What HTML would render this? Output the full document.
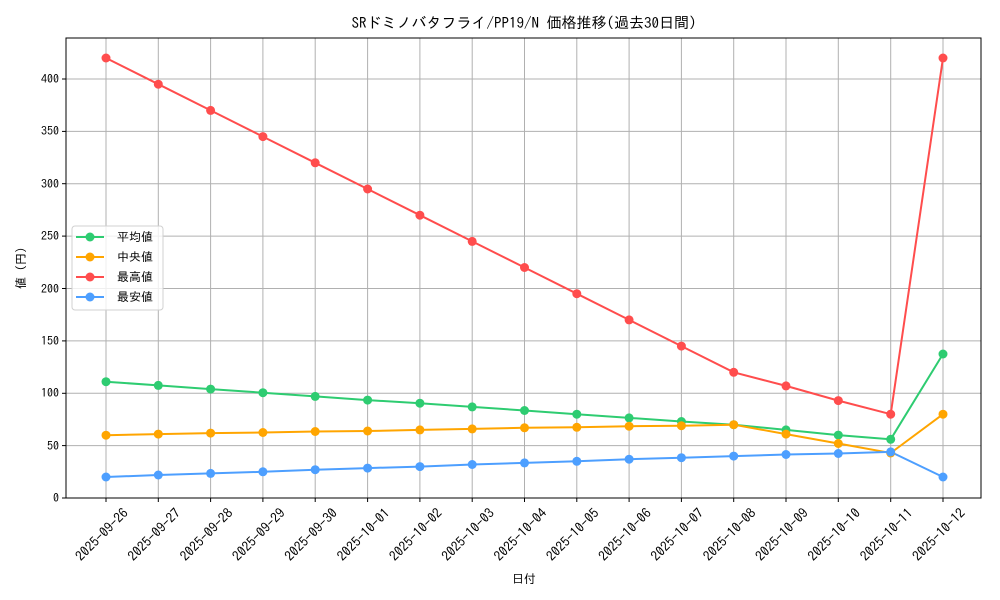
<!DOCTYPE html>
<html><head><meta charset="utf-8"><style>
html,body{margin:0;padding:0;background:#fff;}
svg{display:block;font-family:"IPAGothic","Liberation Sans","Noto Sans CJK JP",sans-serif;}
</style></head><body>
<svg width="1000" height="600" viewBox="0 0 1000 600" xmlns="http://www.w3.org/2000/svg">
<rect width="1000" height="600" fill="#fff"/>
<text x="524" y="28" font-size="15" text-anchor="middle" fill="#000">SRドミノバタフライ/PP19/N 価格推移(過去30日間)</text>
<g stroke="#b0b0b0" stroke-width="1">
<line x1="106" y1="38" x2="106" y2="498"/><line x1="158.3" y1="38" x2="158.3" y2="498"/><line x1="210.6" y1="38" x2="210.6" y2="498"/><line x1="262.9" y1="38" x2="262.9" y2="498"/><line x1="315.2" y1="38" x2="315.2" y2="498"/><line x1="367.6" y1="38" x2="367.6" y2="498"/><line x1="419.9" y1="38" x2="419.9" y2="498"/><line x1="472.2" y1="38" x2="472.2" y2="498"/><line x1="524.5" y1="38" x2="524.5" y2="498"/><line x1="576.8" y1="38" x2="576.8" y2="498"/><line x1="629.1" y1="38" x2="629.1" y2="498"/><line x1="681.4" y1="38" x2="681.4" y2="498"/><line x1="733.7" y1="38" x2="733.7" y2="498"/><line x1="786" y1="38" x2="786" y2="498"/><line x1="838.3" y1="38" x2="838.3" y2="498"/><line x1="890.7" y1="38" x2="890.7" y2="498"/><line x1="943" y1="38" x2="943" y2="498"/>
<line x1="66" y1="445.6" x2="981" y2="445.6"/><line x1="66" y1="393.3" x2="981" y2="393.3"/><line x1="66" y1="340.9" x2="981" y2="340.9"/><line x1="66" y1="288.5" x2="981" y2="288.5"/><line x1="66" y1="236.1" x2="981" y2="236.1"/><line x1="66" y1="183.7" x2="981" y2="183.7"/><line x1="66" y1="131.4" x2="981" y2="131.4"/><line x1="66" y1="79" x2="981" y2="79"/>
</g>
<rect x="66" y="38" width="915" height="460" fill="none" stroke="#000" stroke-width="1"/>
<g stroke="#000"><line x1="62" y1="498" x2="66" y2="498"/><line x1="62" y1="445.6" x2="66" y2="445.6"/><line x1="62" y1="393.3" x2="66" y2="393.3"/><line x1="62" y1="340.9" x2="66" y2="340.9"/><line x1="62" y1="288.5" x2="66" y2="288.5"/><line x1="62" y1="236.1" x2="66" y2="236.1"/><line x1="62" y1="183.7" x2="66" y2="183.7"/><line x1="62" y1="131.4" x2="66" y2="131.4"/><line x1="62" y1="79" x2="66" y2="79"/>
<line x1="106" y1="498" x2="106" y2="502"/><line x1="158.3" y1="498" x2="158.3" y2="502"/><line x1="210.6" y1="498" x2="210.6" y2="502"/><line x1="262.9" y1="498" x2="262.9" y2="502"/><line x1="315.2" y1="498" x2="315.2" y2="502"/><line x1="367.6" y1="498" x2="367.6" y2="502"/><line x1="419.9" y1="498" x2="419.9" y2="502"/><line x1="472.2" y1="498" x2="472.2" y2="502"/><line x1="524.5" y1="498" x2="524.5" y2="502"/><line x1="576.8" y1="498" x2="576.8" y2="502"/><line x1="629.1" y1="498" x2="629.1" y2="502"/><line x1="681.4" y1="498" x2="681.4" y2="502"/><line x1="733.7" y1="498" x2="733.7" y2="502"/><line x1="786" y1="498" x2="786" y2="502"/><line x1="838.3" y1="498" x2="838.3" y2="502"/><line x1="890.7" y1="498" x2="890.7" y2="502"/><line x1="943" y1="498" x2="943" y2="502"/></g>
<g font-size="12" text-anchor="end" fill="#000">
<text x="59" y="502">0</text><text x="59" y="450">50</text><text x="59" y="397">100</text><text x="59" y="345">150</text><text x="59" y="293">200</text><text x="59" y="240">250</text><text x="59" y="188">300</text><text x="59" y="135">350</text><text x="59" y="83">400</text>
</g>
<g font-size="13.5" text-anchor="end" fill="#000">
<text transform="translate(129,514) rotate(-45)">2025-09-26</text>
<text transform="translate(181.3,514) rotate(-45)">2025-09-27</text>
<text transform="translate(233.6,514) rotate(-45)">2025-09-28</text>
<text transform="translate(285.9,514) rotate(-45)">2025-09-29</text>
<text transform="translate(338.2,514) rotate(-45)">2025-09-30</text>
<text transform="translate(390.6,514) rotate(-45)">2025-10-01</text>
<text transform="translate(442.9,514) rotate(-45)">2025-10-02</text>
<text transform="translate(495.2,514) rotate(-45)">2025-10-03</text>
<text transform="translate(547.5,514) rotate(-45)">2025-10-04</text>
<text transform="translate(599.8,514) rotate(-45)">2025-10-05</text>
<text transform="translate(652.1,514) rotate(-45)">2025-10-06</text>
<text transform="translate(704.4,514) rotate(-45)">2025-10-07</text>
<text transform="translate(756.7,514) rotate(-45)">2025-10-08</text>
<text transform="translate(809,514) rotate(-45)">2025-10-09</text>
<text transform="translate(861.3,514) rotate(-45)">2025-10-10</text>
<text transform="translate(913.7,514) rotate(-45)">2025-10-11</text>
<text transform="translate(966,514) rotate(-45)">2025-10-12</text>
</g>
<text x="524" y="583" font-size="12" text-anchor="middle">日付</text>
<text transform="translate(25,268) rotate(-90)" font-size="12" text-anchor="middle">値 (円)</text>
<g fill="none" stroke-width="2">
<polyline stroke="#ff4d4d" points="106,58 158.3,84.2 210.6,110.4 262.9,136.6 315.2,162.8 367.6,189 419.9,215.2 472.2,241.4 524.5,267.5 576.8,293.7 629.1,319.9 681.4,346.1 733.7,372.3 786,385.9 838.3,400.6 890.7,414.2 943,58"/>
<polyline stroke="#2ecc71" points="106,381.7 158.3,385.4 210.6,389.1 262.9,392.7 315.2,396.4 367.6,400.1 419.9,403.2 472.2,406.9 524.5,410.5 576.8,414.2 629.1,417.9 681.4,421.5 733.7,424.7 786,429.9 838.3,435.1 890.7,439.3 943,354"/>
<polyline stroke="#ffa500" points="106,435.2 158.3,434.1 210.6,433.1 262.9,432.5 315.2,431.5 367.6,431 419.9,429.9 472.2,428.9 524.5,427.8 576.8,427.3 629.1,426.2 681.4,425.7 733.7,424.7 786,434.1 838.3,443.5 890.7,453 943,414.2"/>
<polyline stroke="#4d9fff" points="106,477 158.3,475 210.6,473.4 262.9,471.8 315.2,469.7 367.6,468.1 419.9,466.6 472.2,464.5 524.5,462.9 576.8,461.3 629.1,459.2 681.4,457.7 733.7,456.1 786,454.5 838.3,453.5 890.7,451.9 943,477"/>
</g>
<g fill="#ff4d4d"><circle cx="106" cy="58" r="4.5"/><circle cx="158.3" cy="84.2" r="4.5"/><circle cx="210.6" cy="110.4" r="4.5"/><circle cx="262.9" cy="136.6" r="4.5"/><circle cx="315.2" cy="162.8" r="4.5"/><circle cx="367.6" cy="189" r="4.5"/><circle cx="419.9" cy="215.2" r="4.5"/><circle cx="472.2" cy="241.4" r="4.5"/><circle cx="524.5" cy="267.5" r="4.5"/><circle cx="576.8" cy="293.7" r="4.5"/><circle cx="629.1" cy="319.9" r="4.5"/><circle cx="681.4" cy="346.1" r="4.5"/><circle cx="733.7" cy="372.3" r="4.5"/><circle cx="786" cy="385.9" r="4.5"/><circle cx="838.3" cy="400.6" r="4.5"/><circle cx="890.7" cy="414.2" r="4.5"/><circle cx="943" cy="58" r="4.5"/></g>
<g fill="#2ecc71"><circle cx="106" cy="381.7" r="4.5"/><circle cx="158.3" cy="385.4" r="4.5"/><circle cx="210.6" cy="389.1" r="4.5"/><circle cx="262.9" cy="392.7" r="4.5"/><circle cx="315.2" cy="396.4" r="4.5"/><circle cx="367.6" cy="400.1" r="4.5"/><circle cx="419.9" cy="403.2" r="4.5"/><circle cx="472.2" cy="406.9" r="4.5"/><circle cx="524.5" cy="410.5" r="4.5"/><circle cx="576.8" cy="414.2" r="4.5"/><circle cx="629.1" cy="417.9" r="4.5"/><circle cx="681.4" cy="421.5" r="4.5"/><circle cx="733.7" cy="424.7" r="4.5"/><circle cx="786" cy="429.9" r="4.5"/><circle cx="838.3" cy="435.1" r="4.5"/><circle cx="890.7" cy="439.3" r="4.5"/><circle cx="943" cy="354" r="4.5"/></g>
<g fill="#ffa500"><circle cx="106" cy="435.2" r="4.5"/><circle cx="158.3" cy="434.1" r="4.5"/><circle cx="210.6" cy="433.1" r="4.5"/><circle cx="262.9" cy="432.5" r="4.5"/><circle cx="315.2" cy="431.5" r="4.5"/><circle cx="367.6" cy="431" r="4.5"/><circle cx="419.9" cy="429.9" r="4.5"/><circle cx="472.2" cy="428.9" r="4.5"/><circle cx="524.5" cy="427.8" r="4.5"/><circle cx="576.8" cy="427.3" r="4.5"/><circle cx="629.1" cy="426.2" r="4.5"/><circle cx="681.4" cy="425.7" r="4.5"/><circle cx="733.7" cy="424.7" r="4.5"/><circle cx="786" cy="434.1" r="4.5"/><circle cx="838.3" cy="443.5" r="4.5"/><circle cx="890.7" cy="453" r="4.5"/><circle cx="943" cy="414.2" r="4.5"/></g>
<g fill="#4d9fff"><circle cx="106" cy="477" r="4.5"/><circle cx="158.3" cy="475" r="4.5"/><circle cx="210.6" cy="473.4" r="4.5"/><circle cx="262.9" cy="471.8" r="4.5"/><circle cx="315.2" cy="469.7" r="4.5"/><circle cx="367.6" cy="468.1" r="4.5"/><circle cx="419.9" cy="466.6" r="4.5"/><circle cx="472.2" cy="464.5" r="4.5"/><circle cx="524.5" cy="462.9" r="4.5"/><circle cx="576.8" cy="461.3" r="4.5"/><circle cx="629.1" cy="459.2" r="4.5"/><circle cx="681.4" cy="457.7" r="4.5"/><circle cx="733.7" cy="456.1" r="4.5"/><circle cx="786" cy="454.5" r="4.5"/><circle cx="838.3" cy="453.5" r="4.5"/><circle cx="890.7" cy="451.9" r="4.5"/><circle cx="943" cy="477" r="4.5"/></g>
<rect x="72" y="226" width="91" height="84" rx="3" fill="#fff" fill-opacity="0.8" stroke="#d0d0d0"/>
<g stroke-width="2">
<line x1="76" y1="237" x2="104" y2="237" stroke="#2ecc71"/><circle cx="90" cy="237" r="4.5" fill="#2ecc71"/>
<line x1="76" y1="257" x2="104" y2="257" stroke="#ffa500"/><circle cx="90" cy="257" r="4.5" fill="#ffa500"/>
<line x1="76" y1="277" x2="104" y2="277" stroke="#ff4d4d"/><circle cx="90" cy="277" r="4.5" fill="#ff4d4d"/>
<line x1="76" y1="297" x2="104" y2="297" stroke="#4d9fff"/><circle cx="90" cy="297" r="4.5" fill="#4d9fff"/>
</g>
<g font-size="12" fill="#000">
<text x="117" y="241">平均値</text><text x="117" y="261">中央値</text><text x="117" y="281">最高値</text><text x="117" y="301">最安値</text>
</g>
</svg>
</body></html>
